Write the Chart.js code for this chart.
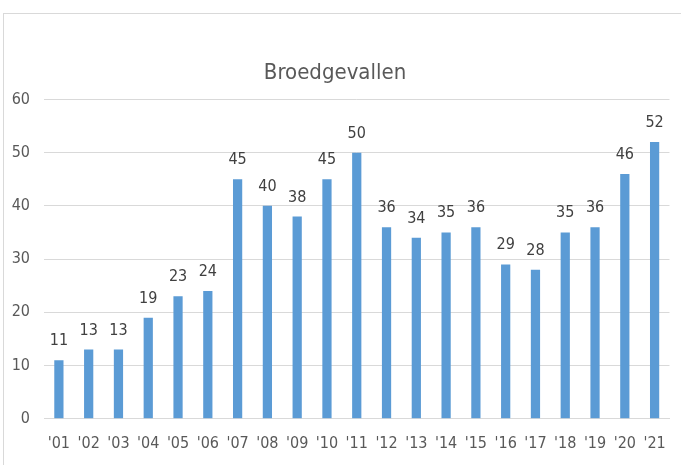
<!DOCTYPE html>
<html>
<head>
<meta charset="utf-8">
<script src="https://cdn.jsdelivr.net/npm/chart.js@4.4.1/dist/chart.umd.min.js"></script>
<style>
  html, body { margin: 0; padding: 0; background: #fff; }
  #frame { position: absolute; left: 3px; top: 13px; width: 678px; height: 452px;
           border-top: 1px solid #d9d9d9; border-left: 1px solid #d9d9d9; }
  #wrap { position: absolute; left: 0; top: 0; width: 681px; height: 465px; }
</style>
</head>
<body>
<div id="frame"></div>
<div id="wrap"><canvas id="chart" width="681" height="465"></canvas></div>
<script>
const years = ["'01","'02","'03","'04","'05","'06","'07","'08","'09","'10","'11",
               "'12","'13","'14","'15","'16","'17","'18","'19","'20","'21"];
const broedgevallen = [11, 13, 13, 19, 23, 24, 45, 40, 38, 45, 50,
                       36, 34, 35, 36, 29, 28, 35, 36, 46, 52];
const yTicks = [0, 10, 20, 30, 40, 50, 60];

const FONT = "'DejaVu Sans Condensed', 'Liberation Sans Narrow', sans-serif";
const TEXT = "#595959";

// values above each bar
const barLabels = {
  id: "barLabels",
  afterDatasetsDraw(chart) {
    const ctx = chart.ctx;
    const meta = chart.getDatasetMeta(0);
    ctx.save();
    ctx.font = "16px " + FONT;
    ctx.fillStyle = "#404040";
    ctx.textAlign = "center";
    ctx.textBaseline = "alphabetic";
    meta.data.forEach((bar, i) => {
      ctx.fillText(String(broedgevallen[i]), bar.x, bar.y - 15);
    });
    ctx.restore();
  }
};

new Chart(document.getElementById("chart"), {
  type: "bar",
  data: {
    labels: years,
    datasets: [{
      data: broedgevallen,
      backgroundColor: "#5b9bd5",
      borderWidth: 0,
      categoryPercentage: 1,
      barPercentage: 0.31
    }]
  },
  options: {
    responsive: false,
    animation: false,
    layout: { padding: { left: 0, right: 11, top: 0, bottom: -3 } },
    plugins: {
      legend: { display: false },
      tooltip: { enabled: false },
      title: {
        display: true,
        text: "Broedgevallen",
        color: TEXT,
        font: { family: FONT, size: 22, weight: "normal" },
        padding: { top: 60, bottom: 13 }
      }
    },
    scales: {
      x: {
        grid: { display: false, drawTicks: false },
        border: { color: "#d9d9d9", width: 1 },
        ticks: { color: TEXT, font: { family: FONT, size: 16 }, padding: 15, maxRotation: 0, autoSkip: false }
      },
      y: {
        min: 0, max: 60,
        afterBuildTicks(scale) { scale.ticks = yTicks.map(v => ({ value: v })); },
        afterFit(scale) { scale.width = 44; },
        grid: { color: "#d9d9d9", lineWidth: 1, drawTicks: false },
        border: { display: false },
        ticks: { color: TEXT, font: { family: FONT, size: 16 }, padding: 14 }
      }
    }
  },
  plugins: [barLabels]
});
</script>
</body>
</html>
